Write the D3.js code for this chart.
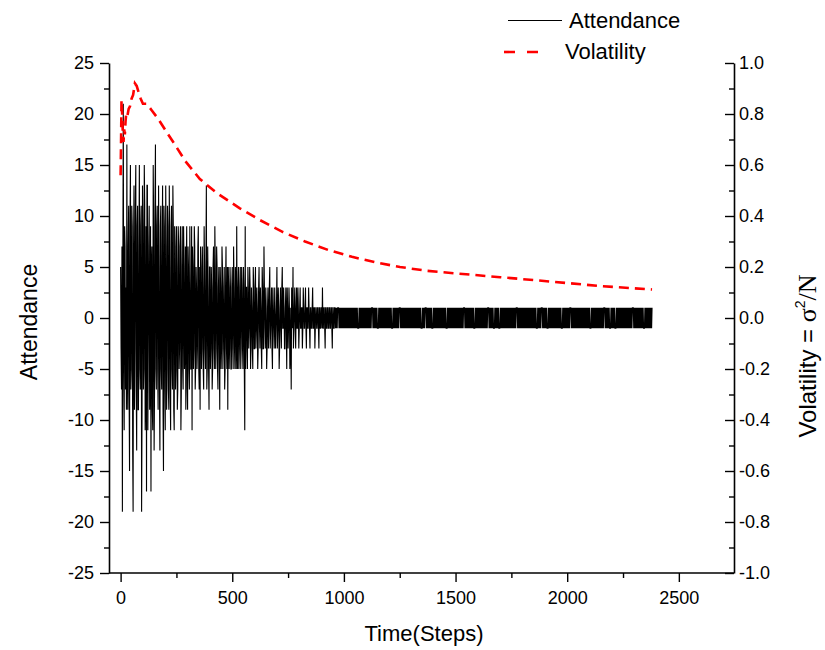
<!DOCTYPE html>
<html><head><meta charset="utf-8">
<script src="https://cdn.jsdelivr.net/npm/d3@7"></script>
<style>
body{margin:0;background:#fff}
text{font-family:"Liberation Sans",Arial,sans-serif;fill:#000}
</style>
</head><body>
<svg id="chart" width="825" height="650"></svg>
<script>
// ---------------- data ----------------
const sampleStep = 2;     // attendance sampled every 2 time steps
const lateStart = 960;    // first step of the settled (+1/-1) regime
const attendanceEarly = [
  5,-3,-7,7,-19,5,21,-5,-11,9,7,-7,3,-9,17,-5,-9,7,11,-7,
  -15,9,15,-7,-5,11,9,-13,-19,7,13,-9,-3,11,15,-7,-13,9,11,-9,
  -9,7,15,-5,-7,9,11,-19,-9,13,9,-7,-5,15,11,-11,-7,9,-17,13,
  13,-11,-3,7,11,-9,-7,9,-17,5,7,-9,-11,15,9,-13,-7,11,17,-5,
  -7,9,11,-5,-9,13,5,-7,-13,9,11,-5,-7,7,13,-9,-15,11,9,-7,
  -11,13,7,-9,-5,11,9,-7,-9,13,5,-7,-11,9,11,-5,-7,13,9,-9,
  -11,9,7,-7,-5,9,5,-9,-7,9,7,-5,-3,7,9,-11,-7,5,9,-5,
  -7,9,5,-5,-3,7,-9,5,9,-7,-9,7,5,-5,-7,9,3,-5,-5,9,
  -11,7,5,-5,-3,9,7,-7,-5,5,3,-5,-3,7,9,-5,-7,5,-9,7,
  5,-5,-3,7,3,-5,-7,9,5,-3,-5,5,13,-7,-5,7,3,-5,-9,5,
  5,-5,-3,5,3,-7,-5,5,7,-3,-5,9,5,-5,-3,7,5,-5,-7,3,
  5,-3,-9,5,3,-5,-3,7,5,-5,-3,3,5,-7,-5,3,7,-3,-5,5,
  -9,5,3,-5,-3,5,3,-5,-5,3,5,-3,-5,7,3,-3,-5,5,3,-5,
  9,-3,-5,3,5,-5,-3,3,5,-5,-3,5,3,-3,-5,5,3,-5,-11,9,
  -5,3,3,-3,-5,5,3,-3,-1,5,3,-5,-3,3,1,-3,-5,5,3,-3,
  -3,3,5,-3,-1,3,1,-5,-3,3,5,-1,-3,3,1,-3,-5,5,3,-3,
  -3,7,3,-1,-3,3,1,-5,-3,1,3,-3,-1,3,5,-3,-1,1,3,-3,
  -5,3,1,-1,-3,3,1,-3,-1,1,5,-3,-1,3,1,-5,-3,1,3,-1,
  -3,3,5,-1,-1,3,1,-3,-3,1,3,-1,-5,3,1,-3,-1,3,1,-5,
  -3,1,-7,3,1,-1,5,-3,-1,1,3,-1,-3,1,3,-1,-1,3,1,-3,
  -1,1,3,-1,-1,1,1,-3,-1,3,1,-1,-1,1,3,-1,-3,1,1,-1,
  -1,3,1,-1,-3,1,1,-1,-1,1,3,-1,-1,1,1,-3,-1,1,1,-1,
  -1,1,1,-1,-3,1,1,-1,-1,1,1,-1,3,-1,-1,1,1,-1,-3,1,
  1,-1,-1,1,1,-1,-1,1,1,-1,-1,1,1,-1,-3,1,1,-1,-1,1
];
const attendanceLate = [
  1,-1,1,-1,1,-1,1,1,1,-1,1,-1,1,-1,1,-1,1,-1,1,-1,
  1,-1,1,-1,1,-1,1,-1,1,-1,1,-1,1,-1,1,-1,1,-1,1,-1,
  1,-1,1,-1,1,-1,1,-1,1,-1,1,-1,-1,-1,1,-1,1,-1,1,-1,
  1,-1,1,-1,1,-1,1,-1,1,-1,1,-1,1,-1,1,-1,1,-1,1,-1,
  1,-1,1,1,1,-1,1,-1,1,-1,1,-1,1,-1,1,-1,-1,-1,1,-1,
  1,-1,1,-1,1,-1,1,-1,1,-1,1,-1,1,-1,1,-1,1,-1,1,-1,
  1,-1,1,-1,1,-1,1,-1,-1,-1,1,-1,1,-1,1,-1,1,-1,1,-1,
  1,-1,1,-1,1,1,1,-1,1,-1,1,-1,1,-1,1,-1,1,-1,1,-1,
  1,-1,1,-1,1,-1,1,-1,1,-1,1,-1,1,-1,1,-1,1,-1,1,-1,
  1,-1,1,-1,1,-1,1,-1,1,-1,1,-1,1,-1,-1,-1,1,-1,1,-1,
  1,-1,1,1,1,-1,1,-1,1,-1,1,-1,1,-1,1,-1,1,-1,-1,-1,
  1,-1,1,-1,1,-1,1,-1,1,-1,1,-1,1,-1,1,-1,1,-1,1,-1,
  1,-1,1,-1,1,-1,1,-1,1,-1,-1,-1,1,-1,1,-1,1,-1,1,-1,
  1,-1,1,-1,1,-1,1,-1,1,-1,1,-1,1,-1,1,-1,1,-1,1,-1,
  1,-1,1,-1,1,-1,1,-1,1,1,1,-1,1,-1,1,-1,1,-1,1,-1,
  1,-1,1,-1,1,-1,1,-1,1,-1,1,-1,-1,-1,1,-1,1,-1,1,-1,
  1,-1,1,-1,1,-1,1,-1,1,-1,1,-1,1,-1,1,-1,1,-1,1,-1,
  1,-1,1,1,1,-1,1,-1,1,-1,1,-1,1,-1,1,-1,-1,-1,1,-1,
  1,-1,1,-1,1,-1,1,-1,-1,-1,1,-1,1,-1,1,-1,1,-1,1,-1,
  1,-1,1,-1,1,-1,1,-1,1,-1,1,-1,1,-1,1,-1,1,-1,1,-1,
  1,-1,1,-1,1,-1,1,1,1,-1,1,-1,1,-1,1,-1,1,-1,1,-1,
  1,-1,1,-1,1,-1,1,-1,1,-1,1,-1,1,-1,1,-1,1,-1,1,-1,
  1,-1,1,-1,1,-1,1,-1,1,-1,1,-1,-1,-1,1,-1,1,-1,1,-1,
  1,-1,1,1,1,-1,1,-1,1,-1,1,-1,1,-1,1,-1,-1,-1,1,-1,
  1,-1,1,-1,1,-1,1,-1,1,-1,1,-1,1,-1,1,-1,1,-1,1,-1,
  1,-1,1,-1,1,-1,1,-1,-1,-1,1,-1,1,-1,1,-1,1,-1,1,-1,
  1,-1,1,-1,1,-1,1,1,1,-1,1,-1,1,-1,1,-1,1,-1,1,-1,
  1,-1,1,-1,1,-1,1,-1,1,-1,1,-1,1,-1,1,-1,1,-1,1,-1,
  1,-1,1,-1,1,-1,1,-1,1,-1,1,-1,-1,-1,1,-1,1,-1,1,-1,
  1,-1,1,-1,1,-1,1,-1,1,-1,1,-1,1,-1,1,-1,1,-1,1,-1,
  1,-1,1,1,1,-1,1,-1,1,-1,1,-1,1,-1,1,-1,-1,-1,1,-1,
  1,-1,1,-1,1,-1,1,-1,-1,-1,1,-1,1,-1,1,-1,1,-1,1,-1,
  1,-1,1,-1,1,-1,1,-1,1,-1,1,-1,1,-1,1,-1,1,-1,1,-1,
  1,-1,1,-1,1,-1,1,1,1,-1,1,-1,1,-1,1,-1,1,-1,1,-1,
  1,-1,1,-1,1,-1,1,-1,1,-1,1,-1,-1,-1,1,-1,1,-1,1,-1,
  1,-1,1,-1,1,-1,1,-1,1,-1,1
];
const volSteps  = [0,2,4,7,10,13,16,19,22,25,30,36,42,49,56,64,72,79,90,100,117,139,169,198,243,290,355,431,534,624,727,826,929,1036,1148,1251,1372,1500,1700,1925,2150,2380];
const volValues = [0.56,0.69,0.855,0.80,0.72,0.69,0.74,0.72,0.77,0.80,0.79,0.82,0.83,0.86,0.875,0.92,0.91,0.89,0.86,0.84,0.84,0.815,0.78,0.74,0.68,0.615,0.545,0.49,0.43,0.384,0.337,0.30,0.267,0.24,0.217,0.20,0.185,0.175,0.16,0.143,0.125,0.112];

const xTicks = [0,500,1000,1500,2000,2500];
const xMinorTicks = [250,750,1250,1750,2250];
const leftTicks = [-25,-20,-15,-10,-5,0,5,10,15,20,25];
const leftMinorTicks = [-22.5,-17.5,-12.5,-7.5,-2.5,2.5,7.5,12.5,17.5,22.5];
const rightTicks = [-1.0,-0.8,-0.6,-0.4,-0.2,0.0,0.2,0.4,0.6,0.8,1.0];
const rightMinorTicks = [-0.9,-0.7,-0.5,-0.3,-0.1,0.1,0.3,0.5,0.7,0.9];

// ---------------- chart ----------------
const svg = d3.select("#chart");
const L = 109, R = 734, T = 63, B = 573;
const x = d3.scaleLinear().domain([-52, 2747]).range([L, R]);
const yL = d3.scaleLinear().domain([-25, 25]).range([B, T]);
const yR = d3.scaleLinear().domain([-1, 1]).range([B, T]);

const attData = attendanceEarly.map((v, i) => [i * sampleStep, v])
  .concat(attendanceLate.map((v, j) => [lateStart + j * sampleStep, v]));
const volData = volSteps.map((s, i) => [s, volValues[i]]);

svg.append("path")
  .datum(attData)
  .attr("fill", "none").attr("stroke", "#000").attr("stroke-width", 1.1)
  .attr("d", d3.line().x(d => x(d[0])).y(d => yL(d[1])));

svg.append("path")
  .datum(volData)
  .attr("fill", "none").attr("stroke", "#ff0000").attr("stroke-width", 2.6)
  .attr("stroke-dasharray", "10,6")
  .attr("d", d3.line().x(d => x(d[0])).y(d => yR(d[1])));

function styleAxis(g, size) {
  g.selectAll("path.domain").attr("stroke", "#000").attr("stroke-width", 1.6);
  g.selectAll(".tick line").attr("stroke", "#000").attr("stroke-width", 1.4);
  g.selectAll("text").style("font-size", size + "px").style("font-family", '"Liberation Sans",Arial,sans-serif');
}

// bottom axis
const gx = svg.append("g").attr("transform", `translate(0,${B})`)
  .call(d3.axisBottom(x).tickValues(xTicks).tickSize(9).tickSizeOuter(0).tickPadding(9).tickFormat(d => String(d)));
gx.select("path.domain").attr("d", `M${L},0H${R}`);
styleAxis(gx, 18);
const gxm = svg.append("g").attr("transform", `translate(0,${B})`)
  .call(d3.axisBottom(x).tickValues(xMinorTicks).tickSize(5).tickSizeOuter(0).tickFormat(""));
gxm.select("path.domain").remove();
styleAxis(gxm, 18);

// left axis
const gl = svg.append("g").attr("transform", `translate(${L},0)`)
  .call(d3.axisLeft(yL).tickValues(leftTicks).tickSize(9).tickSizeOuter(0).tickPadding(6).tickFormat(d => String(d)));
styleAxis(gl, 18);
const glm = svg.append("g").attr("transform", `translate(${L},0)`)
  .call(d3.axisLeft(yL).tickValues(leftMinorTicks).tickSize(5).tickSizeOuter(0).tickFormat(""));
glm.select("path.domain").remove();
styleAxis(glm, 18);

// right axis (ticks inward)
const gr = svg.append("g").attr("transform", `translate(${R},0)`)
  .call(d3.axisRight(yR).tickValues(rightTicks).tickSize(-9).tickSizeOuter(0).tickPadding(5).tickFormat(d => d.toFixed(1)));
styleAxis(gr, 18);
const grm = svg.append("g").attr("transform", `translate(${R},0)`)
  .call(d3.axisRight(yR).tickValues(rightMinorTicks).tickSize(-5).tickSizeOuter(0).tickFormat(""));
grm.select("path.domain").remove();
styleAxis(grm, 18);

// axis titles
const serif = '"Liberation Serif","Times New Roman",serif';
svg.append("text").attr("x", 424).attr("y", 641).attr("text-anchor", "middle")
  .style("font-size", "22px").text("Time(Steps)");
svg.append("text").attr("transform", "translate(37,322) rotate(-90)").attr("text-anchor", "middle")
  .style("font-size", "23px").text("Attendance");
const rt = svg.append("text").attr("transform", "translate(816,356) rotate(-90)").attr("text-anchor", "middle")
  .style("font-size", "24px");
rt.append("tspan").text("Volatility = ");
rt.append("tspan").style("font-family", serif).style("font-size", "26px").text("σ");
rt.append("tspan").attr("dy", -11).style("font-size", "14px").text("2");
rt.append("tspan").attr("dy", 11).style("font-family", serif).style("font-size", "26px").text("/N");

// legend
svg.append("line").attr("x1", 508).attr("x2", 562).attr("y1", 20.5).attr("y2", 20.5)
  .attr("stroke", "#000").attr("stroke-width", 1);
svg.append("text").attr("x", 569).attr("y", 28).style("font-size", "22px").text("Attendance");
svg.append("line").attr("x1", 504).attr("x2", 541).attr("y1", 52).attr("y2", 52)
  .attr("stroke", "#ff0000").attr("stroke-width", 2.6).attr("stroke-dasharray", "11,12");
svg.append("text").attr("x", 565).attr("y", 59).style("font-size", "22px").text("Volatility");
</script>
</body></html>
